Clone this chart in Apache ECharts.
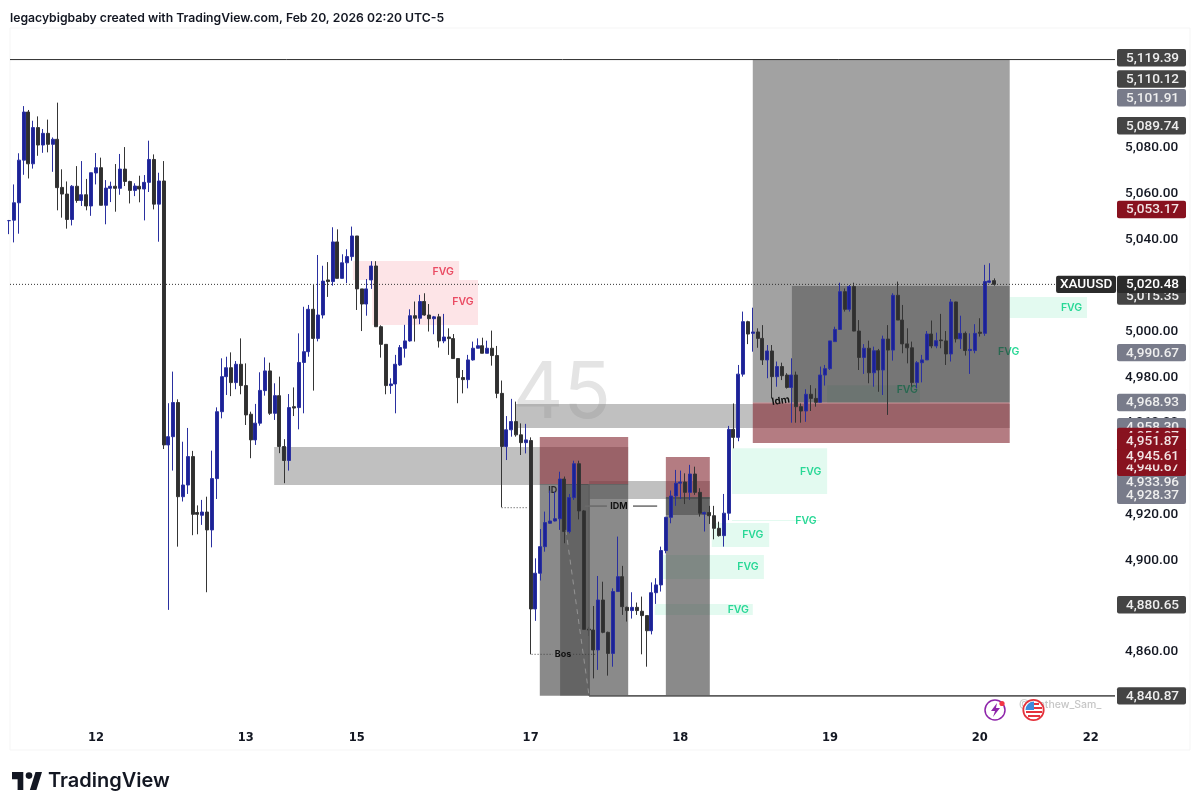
<!DOCTYPE html>
<html>
<head>
<meta charset="utf-8">
<title>XAUUSD</title>
<script src="https://cdn.jsdelivr.net/npm/echarts@6/dist/echarts.min.js"></script>
<style>
html, body { margin: 0; padding: 0; background: #fff; }
#chart { width: 1200px; height: 811px; }
</style>
</head>
<body>
<div id="chart"></div>
<script>
var opens = [
5048.3,5048.5,5056.1,5074.7,5095.7,5073.1,5088.9,5081.3,5086.4,5081.6,
5083.8,5062.8,5059.9,5048.8,5063.3,5057.1,5059.6,5054.7,5069.1,5071.4,
5055,5062.4,5063.3,5062.4,5070.8,5065.4,5061.5,5063.3,5062.1,5065,
5075,5055.5,5065.6,4950.4,4954,4968.9,4927.8,4932.9,4945.3,4920.9,
4919.7,4921.1,4913.3,4935.7,4964.9,4980.2,4984.1,4977.6,4985.6,4976.3,
4963.8,4952.6,4959.9,4974.1,4982.7,4964.2,4971.9,4949.7,4943.6,4967.1,
4966.7,4986.4,4991.1,5009.6,4996.9,5007.1,5022.4,5021.7,5039,5023.1,
5029.9,5032.6,5041.6,5018.5,5011.9,5022.4,5028.5,5002,4994.3,4976.3,
4977,4985.3,4992.6,4995.8,5006.8,5005.7,5013,5007.1,5005.5,5006.3,
4995.8,4997.5,4996.8,4988.1,4979.8,4978.9,4987.5,4992.6,4993.7,4990.4,
4992.6,4989.4,4972.9,4949.7,4957,4960.6,4954.8,4951.4,4952.3,4878.8,
4894.4,4906,4916.2,4917.2,4918.2,4935.5,4912.6,4927.4,4942.2,4921.6,
4870,4869.6,4860.9,4882.7,4868.6,4859.4,4886.4,4892.9,4879.5,4878.1,
4879.5,4877.8,4875.9,4869.3,4885.9,4889.3,4904.3,4918.8,4928.1,4933.7,
4934.2,4929.7,4937.7,4929.7,4920.3,4920.9,4919.5,4914,4910.8,4920.6,
4957.2,4953.7,4981.3,5004.2,4999.1,4999.7,4996.9,4987.5,4991.4,4980.2,
4984.6,4980.9,4975.5,4980.9,4967.1,4965.2,4972.5,4970.7,4969,4980.9,
4983.7,4995.5,5000.8,5017.3,5009.6,5019.5,5000.1,4988.6,4992.6,4981.9,
4991.5,4983.1,4996.6,4991.8,5015.7,5004.9,4994.5,4992.8,4977.6,4986.3,
4987.5,4998.8,4993.6,4996.2,4995.8,4990.1,5012.8,4996.7,4999.1,4991.6,
4991.6,4999.6,4999.1,5021.4,5022.1
];
var closes = [
5048.3,5056.1,5074.7,5095.7,5073.1,5088.9,5081.3,5086.4,5081.6,5083.8,
5062.7,5059.9,5048.8,5063.3,5057.1,5059.6,5054.7,5069.2,5071.4,5055,
5062.5,5063.3,5062.4,5070.8,5065.4,5061.5,5063.4,5062.1,5065,5075,
5055.5,5065.6,4950.4,4954,4968.9,4927.8,4932.9,4945.3,4920.1,4920.1,
4921.1,4913.3,4935.7,4964.9,4980.2,4984.1,4977.6,4985.6,4976.3,4963.5,
4952.6,4959.9,4974.2,4982.7,4964.2,4971.9,4949.7,4943.6,4966.7,4966.5,
4986.4,4991.1,5009.6,4996.9,5007.1,5021.9,5021.7,5039,5023.1,5029.9,
5032.6,5041.6,5018.5,5011.9,5018.5,5028.5,5002,4994.3,4976.3,4977,
4985.6,4992.9,4995.8,5006.8,5005.7,5013,5007.1,5005.5,5006.3,4995.8,
4997.5,4996.8,4988.1,4979.8,4978.9,4987.5,4992.6,4993.7,4990.4,4992.6,
4989.4,4972.9,4949.7,4957,4960.6,4954.8,4951.4,4952.6,4878.8,4894.4,
4906,4916.5,4917.2,4918.2,4935.5,4912.6,4927.4,4942.2,4921.6,4869.9,
4869.6,4860.9,4882.7,4868.6,4859.4,4886.4,4892.9,4879.8,4878.1,4879.5,
4878.1,4875.9,4869.3,4885.9,4889.3,4904.3,4918.8,4928.1,4933.7,4934.2,
4929.7,4937.7,4929.7,4920.6,4920.9,4919.5,4914,4910.8,4920.6,4957.2,
4953.7,4981.3,5004.2,4998.8,4999.7,4996.9,4987.5,4991.4,4980.2,4984.6,
4980.6,4975.5,4980.9,4967.1,4965.2,4972.5,4970.7,4969,4980.9,4983.7,
4995.8,5000.8,5017.3,5009.6,5019.5,5000.1,4988.6,4992.6,4981.9,4991.5,
4983.1,4996.6,4991.8,5015.7,5004.9,4994.5,4992.8,4977.6,4986.3,4987.5,
4998.8,4993.6,4995.9,4995.9,4990.1,5012.8,4996.7,4999.1,4991.6,4992.1,
4999.1,4999.1,5021.7,5022,5020.48
];
var lows = [
5042.4,5038.8,5042.6,5068.3,5066.7,5071.0,5076.6,5077.9,5078.1,5069.6,
5052.8,5049.6,5044.8,5046.2,5056.1,5054.7,5052.8,5050.4,5064.1,5055,
5046.7,5056.4,5052.2,5059.6,5063.4,5055.8,5059,5056.3,5048.4,5060.8,
5053.2,5039.1,4948.6,4878.4,4939.2,4906,4925.7,4929,4911,4911.4,
4915.5,4886.1,4905.7,4926.8,4962,4972.2,4971.7,4974.7,4972.5,4959.1,
4944.6,4950.4,4958.8,4971.9,4963.5,4961.3,4946.8,4933.7,4939.2,4963,
4957.2,4964.2,4988.9,4974.1,4995.6,5005.6,5015,5019.9,5023.1,5023.1,
5021,5030.8,5009.3,5000.1,5006.8,5018.5,5002,4988.5,4972.5,4972.7,
4964.2,4984.9,4988.5,4995.5,4995.5,5003.1,5006.8,4999.9,4998.7,4992.9,
4994.8,4989.7,4988,4968.6,4972.9,4975.1,4987.2,4992.6,4990.4,4990.4,
4985,4970.8,4923.2,4943.8,4954,4954,4946,4946.7,4859,4873.6,
4891.2,4903.8,4915.9,4917,4913.3,4907.5,4911.8,4926.4,4917.9,4869.9,
4867,4848.5,4852.2,4868.2,4849.7,4853.6,4886.4,4876.2,4873.3,4874.6,
4876.2,4859,4853.6,4867.7,4881,4886.4,4903.1,4916.2,4923.8,4926.8,
4924.6,4926.4,4928.6,4919.1,4912.6,4915.9,4909.2,4910.4,4906,4917.6,
4948.9,4952,4980.2,4994.4,4991.1,4992.8,4985.3,4979.5,4970.7,4975.8,
4978.7,4975,4960.1,4960.1,4960.1,4960.5,4965.2,4967.1,4969,4976.3,
4983.1,4995.4,5000.8,5008.6,5008.6,5000,4983.1,4981.4,4977.3,4975.8,
4973.6,4972.2,4963.5,4987.2,5004.9,4990.4,4986,4975.8,4975.1,4977.7,
4987.5,4992.6,4992.6,4992.6,4985.3,4986.8,4995.1,4992.3,4989.4,4981.4,
4990.4,4997.7,4998,5021,5019.9
];
var highs = [
5048.6,5064.1,5077.7,5098.3,5096.6,5091.9,5093.8,5088.3,5092.4,5084.6,
5099.8,5070.7,5065.4,5063.8,5072.1,5074.3,5066.5,5069.2,5077.8,5075.8,
5066,5065.3,5073,5077.4,5080.4,5065.7,5064.6,5067.9,5068.2,5083.2,
5077.2,5069.2,5074.3,4968.6,4982.4,4970.3,4951.8,4957.8,4947.8,4924,
4926.4,4927.8,4947.9,4966.8,4988.2,4988.9,4990.8,4987,4996.9,4986,
4964.9,4968.3,4982.1,4988.6,4986.3,4977.3,4980.2,4952.9,4972.6,4975.5,
4999.1,5010.7,5011.5,5020.2,5033.3,5028.6,5030.2,5045.4,5044.5,5033.6,
5035.8,5045.7,5041.6,5018.5,5022.8,5030.6,5030.6,5002.6,4994.3,4979.5,
4989.7,4994,5002.8,5009.6,5013,5015.9,5016.6,5011.9,5006.7,5007.6,
5007.6,5001.3,4998.8,4988.2,4983.1,4989.7,4995.5,4996.9,4997.2,4995.9,
5000.3,4993.6,4978.5,4963,4970.5,4969.3,4959.8,4959.6,4953.7,4900.9,
4913.7,4921.3,4930.5,4930,4938.7,4936.6,4929,4943.5,4943.5,4922,
4871,4880.1,4893.2,4890.7,4868.9,4887.8,4910.4,4897.6,4879.8,4886.1,
4881.6,4884.2,4875.9,4890.4,4892.2,4906,4919,4930.5,4939.5,4939.2,
4938,4941.7,4940.9,4931.5,4921.3,4923.8,4923.8,4916.9,4929,4958.7,
4968.5,4985.3,5008.6,5004.6,5010.3,5001.3,5002.7,4994,4994,4986.8,
4986.3,4981.7,4988.2,4982.4,4968.5,4974.7,4976.5,4975.1,4984.6,4985.3,
4995.8,5002,5021.2,5018.7,5020.2,5021.2,5004.9,4994.4,4995.9,4993.3,
4992.3,4998.1,5002.7,5016.6,5021.7,5011.5,5001.3,4995.5,4987,4989.7,
5000.1,5004.7,4999.4,5007.6,5000.1,5014.1,5012.9,5006.8,4999.9,4999.1,
5003.1,5005.7,5029,5029.7,5023.1
];

// date labels sit on these bars
var dateBars = [18, 49, 72, 108, 139, 170, 201, 224];
var dateLabels = ['12', '13', '15', '17', '18', '19', '20', '22'];
var priceTicks = [4860, 4900, 4920, 4960, 4980, 5000, 5040, 5060, 5080];

// price tags on the right, later ones paint over earlier ones
var darkTags = [5119.39, 5110.12, 5089.74, 5015.35, 4880.65, 4840.87];
var greyTags = [5101.91, 4990.67, 4968.93, 4958.30, 4933.96, 4928.37];
var redTags = [5053.17, 4954.07, 4940.67, 4945.61, 4951.87];
var lastPrice = 5020.48;
var topLine = 5118.6;

// zones: [first bar, last bar, top price, bottom price]
var pinkGaps = [[71.2, 93.2, 5030.7, 5022.4], [75.2, 97.1, 5022.4, 5002.7]];
var greenGaps = [
  [149.7, 169.4, 4949, 4929], [149.7, 167.9, 4917.6, 4917.2], [145.5, 157.4, 4916.3, 4905.8],
  [134.8, 156.3, 4902.3, 4891.9], [133.7, 154, 4881, 4876.2], [207.2, 223.2, 5015, 5005.8],
  [169.4, 188.6, 4976.5, 4968.7]
];
var greyBands = [[54.9, 128.2, 4949.5, 4932.9], [104.8, 207.2, 4968.3, 4957.8], [120.1, 145.1, 4934.6, 4926.8]];
var targetBoxes = [[154, 207.2, 5118.6, 4968.93]];
var lowerBoxes = [[109.9, 128.2, 4933.3, 4840.87], [136, 145.1, 4927.7, 4840.87]];
var innerBoxes = [[114.1, 120.1, 4933.3, 4840.87], [136, 145.1, 4927.7, 4919.8], [162.1, 207.2, 5019.8, 4968.93]];
var stopBoxes = [[109.9, 128.2, 4953.9, 4933.3], [136, 145.1, 4945.1, 4927.7], [154, 207.2, 4968.93, 4951.2]];

// labels: [bar, price, text]
var pinkNotes = [[89.9, 5025.9, 'FVG'], [94, 5012.8, 'FVG']];
var greenNotes = [
  [166, 4938.6, 'FVG'], [165, 4917.2, 'FVG'], [154, 4911.1, 'FVG'], [153, 4897.1, 'FVG'],
  [151, 4878.3, 'FVG'], [220, 5010.2, 'FVG'], [207, 4991, 'FVG'], [186, 4974.4, 'FVG']
];
var blackNotes = [[112.6, 4930.5, 'ID'], [126.3, 4923.7, 'IDM'], [114.7, 4859, 'Bos']];

var chart = echarts.init(document.getElementById('chart'));
var FONT = 'Inter';
var PRICE_FONT = 'Roboto';

function commas(v) {
    return v.toLocaleString('en-US', { minimumFractionDigits: 2, maximumFractionDigits: 2 });
}

function zoneSeries(name, zones, fill, z) {
    return {
        type: 'custom',
        name: name,
        z: z,
        silent: true,
        encode: { x: [0, 1], y: [2, 3] },
        data: zones,
        renderItem: function (params, api) {
            var a = api.coord([api.value(0), api.value(2)]);
            var b = api.coord([api.value(1), api.value(3)]);
            return {
                type: 'rect',
                shape: { x: a[0], y: a[1], width: b[0] - a[0], height: b[1] - a[1] },
                style: { fill: fill }
            };
        }
    };
}

function noteSeries(name, notes, color, font, z) {
    return {
        type: 'custom',
        name: name,
        z: z,
        silent: true,
        encode: { x: 0, y: 1 },
        data: notes.map(function (n) { return [n[0], n[1]]; }),
        renderItem: function (params, api) {
            var p = api.coord([api.value(0), api.value(1)]);
            return {
                type: 'text',
                x: p[0],
                y: p[1],
                style: {
                    text: notes[params.dataIndex][2], fill: color, align: 'center', verticalAlign: 'middle',
                    font: font
                }
            };
        }
    };
}

function lineSeries(name, segments, color, width, dash) {
    return {
        type: 'custom',
        name: name,
        z: 8,
        silent: true,
        encode: { x: [0, 2], y: [1, 3] },
        data: segments,
        renderItem: function (params, api) {
            var a = api.coord([api.value(0), api.value(1)]);
            var b = api.coord([api.value(2), api.value(3)]);
            return {
                type: 'line',
                shape: { x1: a[0], y1: a[1], x2: b[0], y2: b[1] },
                style: { stroke: color, lineWidth: width, lineDash: dash || null }
            };
        }
    };
}

function tagSeries(name, prices, fill, textFill) {
    return {
        type: 'custom',
        name: name,
        z: 10,
        silent: true,
        clip: false,
        encode: { y: 0 },
        data: prices.map(function (p) { return [p]; }),
        renderItem: function (params, api) {
            var p = api.coord([229, api.value(0)]);
            return {
                type: 'group',
                children: [{
                    type: 'rect',
                    shape: { x: p[0] + 2, y: p[1] - 8.7, width: 69, height: 17.4, r: 2 },
                    style: { fill: fill }
                }, {
                    type: 'text',
                    x: p[0] + 37.5,
                    y: p[1] + 0.5,
                    style: {
                        text: commas(api.value(0)), fill: textFill, align: 'center', verticalAlign: 'middle',
                        font: '500 13.6px ' + PRICE_FONT
                    }
                }]
            };
        }
    };
}

var candleData = opens.map(function (o, i) {
    return [i, o, closes[i], lows[i], highs[i]];
});

chart.setOption({
    animation: false,
    backgroundColor: '#ffffff',
    title: {
        text: 'legacybigbaby created with TradingView.com, Feb 20, 2026 02:20 UTC-5',
        left: 10,
        top: 12,
        padding: 0,
        textStyle: { color: '#131722', fontSize: 12.2, fontWeight: 600, fontFamily: FONT }
    },
    grid: { left: 10, right: 85, top: 28, bottom: 89, show: false },
    xAxis: {
        type: 'value',
        min: 0.2,
        max: 229,
        axisLine: { show: false },
        axisTick: { show: false },
        splitLine: { show: false },
        axisLabel: {
            customValues: dateBars,
            margin: 10,
            color: '#131722',
            fontSize: 11.5,
            fontWeight: 'bold',
            fontFamily: 'DejaVu Sans',
            formatter: function (v) { return dateLabels[dateBars.indexOf(v)]; }
        }
    },
    yAxis: {
        type: 'value',
        position: 'right',
        min: 4829.46,
        max: 5132.38,
        axisLine: { show: false },
        axisTick: { show: false },
        splitLine: { show: false },
        axisLabel: {
            customValues: priceTicks,
            margin: 10,
            padding: [5, 0, 0, 0],
            color: '#131722',
            fontSize: 13.6,
            fontWeight: 500,
            fontFamily: PRICE_FONT,
            formatter: function (v) { return commas(v); }
        }
    },
    graphic: [
        { type: 'rect', z: -1, shape: { x: 10, y: 28, width: 1180, height: 722 }, style: { fill: 'none', stroke: '#f5f5f5' } },
        // footer logo
        { type: 'polygon', z: 20, shape: { points: [[23.3, 772], [12, 772], [12, 779.2], [17.6, 779.2], [17.6, 790], [23.3, 790]] }, style: { fill: '#131722' } },
        { type: 'polygon', z: 20, shape: { points: [[36.4, 790], [29.9, 790], [35.5, 772], [42, 772]] }, style: { fill: '#131722' } },
        { type: 'circle', z: 20, shape: { cx: 29, cy: 775.6, r: 3.3 }, style: { fill: '#131722' } },
        { type: 'text', z: 20, x: 48, y: 781, style: { text: 'TradingView', fill: '#131722', font: '600 20px ' + FONT, verticalAlign: 'middle' } },
        // badges
        { type: 'text', z: 20, x: 1019, y: 705, style: { text: '@Mathew_Sam_', fill: '#c6c6c6', font: '500 10.5px ' + FONT, verticalAlign: 'middle' } },
        { type: 'circle', z: 21, shape: { cx: 995, cy: 710, r: 10 }, style: { fill: '#fff', stroke: '#8e24aa', lineWidth: 1.5 } },
        { type: 'polygon', z: 21, shape: { points: [[997, 703], [991, 711], [995, 711], [993, 717], [1000, 708], [996, 708]] }, style: { fill: '#8e24aa' } },
        { type: 'circle', z: 21, shape: { cx: 1002, cy: 703.5, r: 2.6 }, style: { fill: '#f23645' } },
        { type: 'circle', z: 21, shape: { cx: 1033.5, cy: 710, r: 10.2 }, style: { fill: '#fff', stroke: '#e5323c', lineWidth: 1.8 } },
        { type: 'sector', z: 22, shape: { cx: 1034, cy: 710, r: 8.5, r0: 0, startAngle: Math.PI, endAngle: Math.PI * 1.5 }, style: { fill: '#3d8bdc' } },
        { type: 'rect', z: 22, shape: { x: 1034, y: 703, width: 5, height: 2 }, style: { fill: '#e5323c' } },
        { type: 'rect', z: 22, shape: { x: 1034, y: 707, width: 8, height: 2 }, style: { fill: '#e5323c' } },
        { type: 'rect', z: 22, shape: { x: 1026, y: 711, width: 16, height: 2 }, style: { fill: '#e5323c' } },
        { type: 'rect', z: 22, shape: { x: 1028, y: 715, width: 12, height: 2 }, style: { fill: '#e5323c' } }
    ],
    series: [
        noteSeries('watermark', [[114.5, 4972.6, '45']], '#e4e4e4', '400 78px ' + FONT, 1),
        zoneSeries('pink gaps', pinkGaps, '#fde4e7', 2),
        zoneSeries('green gaps', greenGaps, '#e3faf0', 2),
        noteSeries('pink labels', pinkNotes, '#ea4a62', '600 10.5px ' + FONT, 2),
        noteSeries('green labels', greenNotes, '#28d896', '600 10.5px ' + FONT, 2),
        zoneSeries('bands', greyBands, 'rgba(130,130,130,0.5)', 3),
        noteSeries('black labels', blackNotes.slice(0, 1), '#111111', '700 9px ' + FONT, 3),
        zoneSeries('target', targetBoxes, 'rgba(70,70,70,0.5)', 4),
        zoneSeries('lower', lowerBoxes, 'rgba(60,60,60,0.6)', 4),
        zoneSeries('inner', innerBoxes, 'rgba(0,0,0,0.27)', 4),
        zoneSeries('stop', stopBoxes, 'rgba(125,30,40,0.58)', 4),
        {
            type: 'candlestick',
            name: 'XAUUSD',
            z: 6,
            barWidth: 3.5,
            clip: true,
            encode: { x: 0, y: [1, 2, 3, 4] },
            itemStyle: {
                color: '#1c2296', color0: '#2f2f2f',
                borderColor: '#2a30a0', borderColor0: '#353535', borderWidth: 1
            },
            data: candleData
        },
        lineSeries('level lines', [[0.2, topLine, 229, topLine]], '#2c2c2c', 1),
        lineSeries('last price', [[0.2, lastPrice, 216.8, lastPrice]], '#333333', 1, [1, 2]),
        lineSeries('low line', [[120.1, 4840.87, 229, 4840.87], [120.1, 4933.3, 120.1, 4840.87]], '#5e5e5e', 1.6),
        lineSeries('dotted', [[102, 4923, 107.2, 4923], [108.2, 4859, 112.6, 4859], [116.8, 4859, 121.5, 4859]], '#444444', 1, [1, 2]),
        lineSeries('idm line', [[119.2, 4923.7, 123.8, 4923.7], [129.2, 4923.7, 134.2, 4923.7]], '#6a6a6a', 1.5),
        lineSeries('trend', [[115.3, 4913.3, 120.1, 4840.87]], 'rgba(255,255,255,0.3)', 1, [5, 5]),
        noteSeries('tool labels', blackNotes.slice(1), '#111111', '700 9px ' + FONT, 8),
        {
            type: 'custom',
            name: 'idm tag',
            z: 8,
            silent: true,
            encode: { x: 0, y: 1 },
            data: [[159.8, 4969.7]],
            renderItem: function (params, api) {
                var p = api.coord([api.value(0), api.value(1)]);
                return {
                    type: 'text',
                    x: p[0],
                    y: p[1],
                    rotation: 0.16,
                    style: { text: 'Idm', fill: '#111111', align: 'center', verticalAlign: 'middle', font: '700 10px ' + FONT }
                };
            }
        },
        tagSeries('dark tags', darkTags, '#444444', '#eeeeee'),
        tagSeries('grey tags', greyTags, '#787b8a', '#eeeeee'),
        tagSeries('red tags', redTags, '#88121f', '#f2e4e4'),
        tagSeries('last', [lastPrice], '#2b2b2b', '#ffffff'),
        {
            type: 'custom',
            name: 'symbol tag',
            z: 10,
            silent: true,
            clip: false,
            encode: { y: 0 },
            data: [[lastPrice]],
            renderItem: function (params, api) {
                var p = api.coord([216.8, api.value(0)]);
                return {
                    type: 'group',
                    children: [{
                        type: 'rect',
                        shape: { x: p[0], y: p[1] - 8.7, width: 60, height: 17.4, r: 2 },
                        style: { fill: '#2b2b2b' }
                    }, {
                        type: 'text',
                        x: p[0] + 30,
                        y: p[1] + 0.5,
                        style: { text: 'XAUUSD', fill: '#ffffff', align: 'center', verticalAlign: 'middle', font: '500 13.6px ' + PRICE_FONT }
                    }]
                };
            }
        }
    ]
});
</script>
</body>
</html>
